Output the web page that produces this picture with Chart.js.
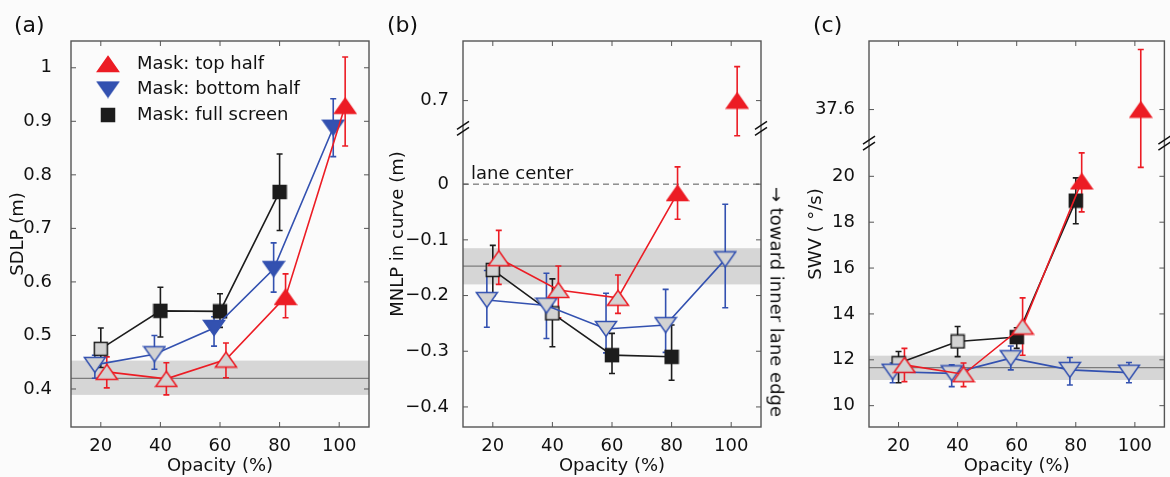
<!DOCTYPE html>
<html>
<head>
<meta charset="utf-8">
<script src="https://cdn.jsdelivr.net/npm/chart.js@4.4.0/dist/chart.umd.min.js"></script>
<style>
body { margin:0; background:#fbfbfb; width:1170px; height:477px; overflow:hidden; position:relative; font-family:"DejaVu Sans", sans-serif; color:#111; }
canvas { position:absolute; top:0; }
.lbl { position:absolute; font-size:22px; line-height:22px; }
#edge { position:absolute; font-size:18px; white-space:nowrap; left:777px; top:302px; transform:translate(-50%,-50%) rotate(90deg); }
</style>
</head>
<body>
<canvas id="chartA" width="385" height="477" style="left:0"></canvas>
<canvas id="chartB" width="385" height="477" style="left:385px"></canvas>
<canvas id="chartC" width="400" height="477" style="left:770px"></canvas>
<div class="lbl" style="left:14px;top:14px">(a)</div>
<div class="lbl" style="left:387px;top:14px">(b)</div>
<div class="lbl" style="left:813px;top:14px">(c)</div>
<div id="edge">→ toward inner lane edge</div>
<script>
var opacity = [20, 40, 60, 80, 100];
var dodge = 2;

// (a) SDLP (m)
var sdlpTop = [0.432, 0.419, 0.455, 0.572, 0.929];
var sdlpTopLo = [0.402, 0.389, 0.421, 0.533, 0.854];
var sdlpTopHi = [0.46, 0.449, 0.486, 0.615, 1.02];
var sdlpTopSig = [0, 0, 0, 1, 1];
var sdlpBot = [0.445, 0.465, 0.514, 0.624, 0.888];
var sdlpBotLo = [0.42, 0.437, 0.48, 0.581, 0.834];
var sdlpBotHi = [0.463, 0.5, 0.535, 0.673, 0.942];
var sdlpBotSig = [0, 0, 1, 1, 1];
var sdlpFull = [0.475, 0.546, 0.545, 0.768];
var sdlpFullLo = [0.44, 0.497, 0.515, 0.696];
var sdlpFullHi = [0.514, 0.59, 0.578, 0.839];
var sdlpFullSig = [0, 1, 1, 1];
var sdlpBase = [0.389, 0.42, 0.453];
var sdlpTicks = [0.4, 0.5, 0.6, 0.7, 0.8, 0.9, 1];
var sdlpTickLabels = ['0.4', '0.5', '0.6', '0.7', '0.8', '0.9', '1'];

// (b) MNLP in curve (m)
var mnlpTop = [-0.133, -0.19, -0.204, -0.016, 0.7];
var mnlpTopLo = [-0.18, -0.24, -0.232, -0.063, 0.637];
var mnlpTopHi = [-0.083, -0.147, -0.163, 0.031, 0.761];
var mnlpTopSig = [0, 0, 0, 1, 1];
var mnlpBot = [-0.208, -0.218, -0.26, -0.253, -0.135];
var mnlpBotLo = [-0.257, -0.277, -0.303, -0.302, -0.222];
var mnlpBotHi = [-0.155, -0.16, -0.196, -0.189, -0.036];
var mnlpBotSig = [0, 0, 0, 0, 0];
var mnlpFull = [-0.154, -0.232, -0.307, -0.31];
var mnlpFullLo = [-0.2, -0.292, -0.34, -0.352];
var mnlpFullHi = [-0.11, -0.17, -0.268, -0.253];
var mnlpFullSig = [0, 0, 1, 1];
var mnlpBase = [-0.18, -0.147, -0.115];
var mnlpTicks = [-0.4, -0.3, -0.2, -0.1, 0, 0.7];
var mnlpTickLabels = ['\u22120.4', '\u22120.3', '\u22120.2', '\u22120.1', '0', '0.7'];

// (c) SWV (deg/s)
var swvTop = [11.78, 11.37, 13.45, 19.78, 37.6];
var swvTopLo = [11.05, 10.83, 12.2, 18.45, 35.08];
var swvTopHi = [12.5, 11.86, 14.7, 21.02, 40.22];
var swvTopSig = [0, 0, 0, 1, 1];
var swvBot = [11.48, 11.41, 12.07, 11.56, 11.44];
var swvBotLo = [11.0, 10.83, 11.56, 10.9, 11.0];
var swvBotHi = [11.86, 11.78, 12.6, 12.1, 11.88];
var swvBotSig = [0, 0, 0, 0, 0];
var swvFull = [11.85, 12.8, 12.99, 18.94];
var swvFullLo = [11.0, 12.14, 12.5, 17.93];
var swvFullHi = [12.36, 13.45, 13.4, 19.93];
var swvFullSig = [0, 0, 1, 1];
var swvBase = [11.12, 11.66, 12.18];
var swvTicks = [10, 12, 14, 16, 18, 20, 37.6];
var swvTickLabels = ['10', '12', '14', '16', '18', '20', '37.6'];

// broken y axes: values above the cut are moved down by shift
function noBreak(v) { return v; }
function breakB(v) { return v > 0.3 ? v - 0.55 : v; }
function breakC(v) { return v > 30 ? v - 14.69 : v; }

var red = '#ec1c24', blue = '#3351b0', black = '#1c1c1c', hollow = '#d3d3d3';

Chart.defaults.font.family = '"DejaVu Sans", sans-serif';
Chart.defaults.font.size = 18;
Chart.defaults.color = '#111';

function makeMarker(shape, stroke, fill) {
    var w = shape === 'square' ? 13 : 21, h = shape === 'square' ? 13 : 15;
    var c = document.createElement('canvas');
    c.width = w + 3; c.height = h + 3;
    var g = c.getContext('2d');
    g.lineWidth = 1.5; g.strokeStyle = stroke; g.fillStyle = fill;
    g.beginPath();
    if (shape === 'up') { g.moveTo(1.5 + w / 2, 1.5); g.lineTo(1.5 + w, 1.5 + h); g.lineTo(1.5, 1.5 + h); }
    else if (shape === 'down') { g.moveTo(1.5, 1.5); g.lineTo(1.5 + w, 1.5); g.lineTo(1.5 + w / 2, 1.5 + h); }
    else g.rect(1.5, 1.5, w, h);
    g.closePath(); g.fill(); g.stroke();
    return c;
}

function series(vals, lo, hi, sig, dx, color, shape, fn, cutLast) {
    var full = makeMarker(shape, color, color), open = makeMarker(shape, color, hollow);
    return {
        data: vals.map(function(v, i) { return {x: opacity[i] + dx, y: fn(v)}; }),
        errLo: lo.map(fn),
        errHi: hi.map(fn),
        borderColor: color,
        backgroundColor: color,
        borderWidth: 1.6,
        showLine: true,
        pointStyle: sig.map(function(s) { return s ? full : open; }),
        segment: {
            borderColor: function(ctx) { return cutLast && ctx.p1DataIndex === 4 ? 'rgba(0,0,0,0)' : undefined; }
        }
    };
}

var panelPlugin = {
    id: 'panel',
    beforeDatasetsDraw: function(chart, args, o) {
        var ctx = chart.ctx, a = chart.chartArea, y = chart.scales.y;
        ctx.save();
        var t = y.getPixelForValue(o.band[2]), b = y.getPixelForValue(o.band[0]);
        ctx.fillStyle = '#d6d6d6';
        ctx.fillRect(a.left, t, a.right - a.left, b - t);
        ctx.strokeStyle = '#7c7c7c'; ctx.lineWidth = 1.2;
        var m = y.getPixelForValue(o.band[1]);
        ctx.beginPath(); ctx.moveTo(a.left, m); ctx.lineTo(a.right, m); ctx.stroke();
        if (o.zeroLine) {
            var z = y.getPixelForValue(0);
            ctx.setLineDash([6, 4]); ctx.strokeStyle = '#555'; ctx.lineWidth = 1;
            ctx.beginPath(); ctx.moveTo(a.left, z); ctx.lineTo(a.right, z); ctx.stroke();
            ctx.setLineDash([]);
            ctx.fillStyle = '#111'; ctx.font = '18px "DejaVu Sans"'; ctx.textBaseline = 'alphabetic';
            ctx.fillText('lane center', a.left + 8, z - 5);
        }
        chart.data.datasets.forEach(function(ds, i) {
            var meta = chart.getDatasetMeta(i);
            ctx.strokeStyle = ds.borderColor; ctx.lineWidth = 1.6;
            meta.data.forEach(function(pt, j) {
                var y1 = y.getPixelForValue(ds.errLo[j]), y2 = y.getPixelForValue(ds.errHi[j]);
                ctx.beginPath();
                ctx.moveTo(pt.x, y1); ctx.lineTo(pt.x, y2);
                ctx.moveTo(pt.x - 3, y1); ctx.lineTo(pt.x + 3, y1);
                ctx.moveTo(pt.x - 3, y2); ctx.lineTo(pt.x + 3, y2);
                ctx.stroke();
            });
        });
        ctx.restore();
    },
    afterDraw: function(chart, args, o) {
        var ctx = chart.ctx, a = chart.chartArea, x = chart.scales.x, y = chart.scales.y;
        ctx.save();
        ctx.strokeStyle = '#555'; ctx.lineWidth = 1.4;
        ctx.strokeRect(a.left, a.top, a.right - a.left, a.bottom - a.top);
        ctx.lineWidth = 1;
        ctx.beginPath();
        x.ticks.forEach(function(t) {
            var px = x.getPixelForValue(t.value);
            ctx.moveTo(px, a.bottom); ctx.lineTo(px, a.bottom - 5);
            ctx.moveTo(px, a.top); ctx.lineTo(px, a.top + 5);
        });
        y.ticks.forEach(function(t) {
            var py = y.getPixelForValue(t.value);
            ctx.moveTo(a.left, py); ctx.lineTo(a.left + 5, py);
            ctx.moveTo(a.right, py); ctx.lineTo(a.right - 5, py);
        });
        ctx.stroke();
        if (o.breakAt !== undefined) {
            var py = y.getPixelForValue(o.breakAt);
            ctx.strokeStyle = '#111'; ctx.lineWidth = 1.5;
            ctx.beginPath();
            [a.left, a.right].forEach(function(px) {
                [-3, 3].forEach(function(d) {
                    ctx.moveTo(px - 6, py + d + 4); ctx.lineTo(px + 6, py + d - 4);
                });
            });
            ctx.stroke();
        }
        if (o.legend) {
            ctx.font = '18px "DejaVu Sans"'; ctx.fillStyle = '#111'; ctx.textBaseline = 'middle';
            o.legend.forEach(function(item, i) {
                var cy = a.top + 23 + 25.5 * i, mk = item.marker;
                ctx.drawImage(mk, a.left + 37 - mk.width / 2, cy - mk.height / 2);
                ctx.fillText(item.text, a.left + 66, cy);
            });
        }
        ctx.restore();
    }
};

function makeOptions(yMin, yMax, yTicks, yLabels, yTitle, yWidth, titlePad, tickPad, rightPad, panel) {
    return {
        animation: false,
        responsive: false,
        devicePixelRatio: 1,
        layout: {padding: {left: 0, top: 41, right: rightPad, bottom: 0}},
        plugins: {legend: {display: false}, tooltip: {enabled: false}, panel: panel},
        scales: {
            x: {
                type: 'linear', min: 10, max: 110,
                afterBuildTicks: function(s) { s.ticks = opacity.map(function(v) { return {value: v}; }); },
                afterFit: function(s) { s.height = 50; },
                grid: {display: false}, border: {display: false},
                ticks: {padding: 1, autoSkip: false, maxRotation: 0},
                title: {display: true, text: 'Opacity (%)', padding: {top: 0, bottom: 0}}
            },
            y: {
                type: 'linear', min: yMin, max: yMax,
                afterBuildTicks: function(s) { s.ticks = yTicks.map(function(v) { return {value: v}; }); },
                afterFit: function(s) { s.width = yWidth; },
                grid: {display: false}, border: {display: false},
                ticks: {padding: tickPad, autoSkip: false, callback: function(v, i) { return yLabels[i]; }},
                title: {display: true, text: yTitle, padding: {top: titlePad, bottom: 0}}
            }
        }
    };
}

new Chart(document.getElementById('chartA'), {
    type: 'scatter',
    data: {datasets: [
        series(sdlpTop, sdlpTopLo, sdlpTopHi, sdlpTopSig, dodge, red, 'up', noBreak, false),
        series(sdlpBot, sdlpBotLo, sdlpBotHi, sdlpBotSig, -dodge, blue, 'down', noBreak, false),
        series(sdlpFull, sdlpFullLo, sdlpFullHi, sdlpFullSig, 0, black, 'square', noBreak, false)
    ]},
    options: makeOptions(0.329, 1.05, sdlpTicks, sdlpTickLabels, 'SDLP (m)', 71, 8, 11, 16, {
        band: sdlpBase,
        legend: [
            {marker: makeMarker('up', red, red), text: 'Mask: top half'},
            {marker: makeMarker('down', blue, blue), text: 'Mask: bottom half'},
            {marker: makeMarker('square', black, black), text: 'Mask: full screen'}
        ]
    }),
    plugins: [panelPlugin]
});

new Chart(document.getElementById('chartB'), {
    type: 'scatter',
    data: {datasets: [
        series(mnlpTop, mnlpTopLo, mnlpTopHi, mnlpTopSig, dodge, red, 'up', breakB, true),
        series(mnlpBot, mnlpBotLo, mnlpBotHi, mnlpBotSig, -dodge, blue, 'down', breakB, false),
        series(mnlpFull, mnlpFullLo, mnlpFullHi, mnlpFullSig, 0, black, 'square', breakB, false)
    ]},
    options: makeOptions(-0.436, 0.257, mnlpTicks.map(breakB), mnlpTickLabels, 'MNLP in curve (m)', 78, 3, 6, 9, {
        band: mnlpBase, zeroLine: true, breakAt: 0.1
    }),
    plugins: [panelPlugin]
});

new Chart(document.getElementById('chartC'), {
    type: 'scatter',
    data: {datasets: [
        series(swvTop, swvTopLo, swvTopHi, swvTopSig, dodge, red, 'up', breakC, true),
        series(swvBot, swvBotLo, swvBotHi, swvBotSig, -dodge, blue, 'down', breakC, false),
        series(swvFull, swvFullLo, swvFullHi, swvFullSig, 0, black, 'square', breakC, false)
    ]},
    options: makeOptions(9.07, 25.9, swvTicks.map(breakC), swvTickLabels, 'SWV ( \u00b0/s)', 99, 36, 6, 4, {
        band: swvBase, breakAt: 21.45
    }),
    plugins: [panelPlugin]
});
</script>
</body>
</html>
